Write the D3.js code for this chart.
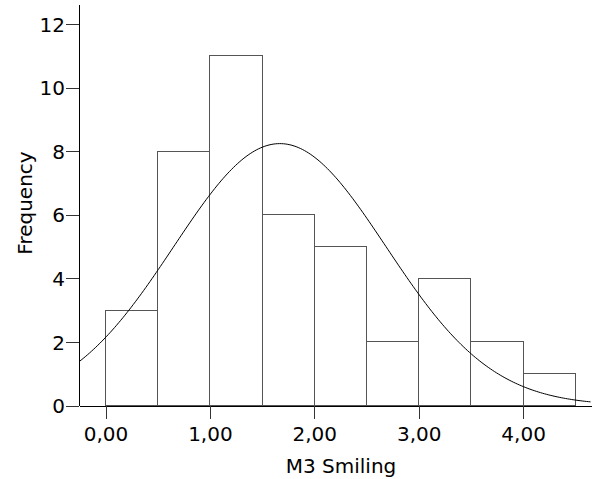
<!DOCTYPE html>
<html>
<head>
<meta charset="utf-8">
<script src="https://cdn.jsdelivr.net/npm/d3@7"></script>
<style>
  body { margin: 0; background: #fff; }
  svg text { font-family: "DejaVu Sans", Verdana, sans-serif; fill: #000; }
</style>
</head>
<body>
<svg id="hist" width="592" height="479"></svg>
<script>
// histogram bins (M3 Smiling), width 0.5
let binStarts = [0, 0.5, 1, 1.5, 2, 2.5, 3, 3.5, 4]
let counts = [3, 8, 11, 6, 5, 2, 4, 2, 1]
let binWidth = 0.5
let xTicks = [0, 1, 2, 3, 4]
let yTicks = [0, 2, 4, 6, 8, 10, 12]

// fitted normal curve parameters
let mean = 1.67
let sd = 1.017
let n = 42

let svg = d3.select("#hist")

let xScale = d3.scaleLinear()
    .domain([-0.254, 4.66])
    .range([79, 592])

let yScale = d3.scaleLinear()
    .domain([0, 12])
    .range([405.5, 24])

// bars
svg.selectAll("rect.bar")
    .data(binStarts)
    .enter()
    .append("rect")
    .attr("class", "bar")
    .attr("x", (d, i) => xScale(d))
    .attr("y", (d, i) => yScale(counts[i]))
    .attr("width", (d, i) => xScale(d + binWidth) - xScale(d))
    .attr("height", (d, i) => yScale(0) - yScale(counts[i]))
    .attr("fill", "#fff")
    .attr("stroke", "#555")
    .attr("stroke-width", 1)
    .attr("shape-rendering", "crispEdges")

// normal curve
let curveX = d3.range(xScale.domain()[0], xScale.domain()[1] + 0.001, 0.02)
let normal = x => n * binWidth / (sd * Math.sqrt(2 * Math.PI)) * Math.exp(-((x - mean) ** 2) / (2 * sd * sd))

svg.append("path")
    .datum(curveX)
    .attr("d", d3.line().x(d => xScale(d)).y(d => yScale(normal(d))))
    .attr("fill", "none")
    .attr("stroke", "#000")
    .attr("stroke-width", 1)

// axes
let xAxis = svg.append("g")
    .attr("transform", `translate(0, ${yScale(0)})`)
    .call(d3.axisBottom(xScale).tickValues(xTicks).tickSize(13).tickSizeOuter(0)
        .tickFormat(d => d3.format(".2f")(d).replace(".", ",")))

let yAxis = svg.append("g")
    .attr("transform", `translate(${xScale.range()[0]}, 0)`)
    .call(d3.axisLeft(yScale).tickValues(yTicks).tickSize(13).tickSizeOuter(0))

yAxis.select(".domain").attr("d", `M0,${yScale(0)}V5`)

svg.selectAll(".domain").attr("stroke", "#000").attr("shape-rendering", "crispEdges")
svg.selectAll(".tick line").attr("stroke", "#333").attr("shape-rendering", "crispEdges")
svg.selectAll(".tick text").style("font-size", "20px").attr("fill", "#000")
xAxis.selectAll(".tick text").attr("dy", "0.71em").attr("y", 21)
yAxis.selectAll(".tick text").attr("x", -14).attr("dy", "0.36em")

// labels
svg.append("text")
    .text("M3 Smiling")
    .attr("x", 341)
    .attr("y", 473)
    .attr("text-anchor", "middle")
    .style("font-size", "20px")

svg.append("text")
    .text("Frequency")
    .attr("transform", "translate(32, 203) rotate(-90)")
    .attr("text-anchor", "middle")
    .style("font-size", "20px")
</script>
</body>
</html>
